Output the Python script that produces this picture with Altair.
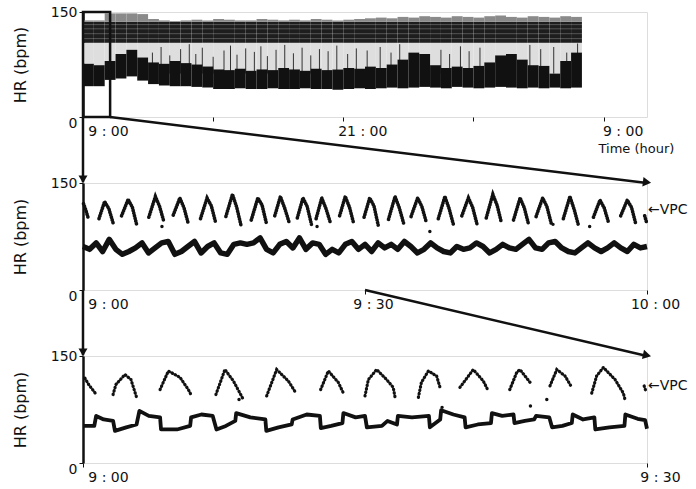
import altair as alt
import pandas as pd

FONT = "DejaVu Sans"
INK = "#111111"

# ---------------- Panel 1: whole-day HR (hours after 9:00) ----------------
p1_bin_t = [0.0, 0.5, 1.0, 1.5, 2.0, 2.5, 3.0, 3.5, 4.0, 4.5, 5.0, 5.5, 6.0, 6.5, 7.0, 7.5,
            8.0, 8.5, 9.0, 9.5, 10.0, 10.5, 11.0, 11.5, 12.0, 12.5, 13.0, 13.5, 14.0, 14.5,
            15.0, 15.5, 16.0, 16.5, 17.0, 17.5, 18.0, 18.5, 19.0, 19.5, 20.0, 20.5, 21.0,
            21.5, 22.0, 22.5]
p1_low = [44, 44, 53, 55, 58, 52, 47, 45, 44, 44, 43, 42, 40, 40, 41, 40, 40, 41, 40, 40,
          41, 40, 40, 39, 40, 41, 40, 41, 42, 41, 42, 43, 42, 41, 43, 42, 41, 42, 43, 42,
          41, 42, 41, 42, 41, 42]
p1_high = [76, 74, 80, 90, 96, 85, 78, 76, 80, 77, 75, 72, 68, 67, 69, 66, 68, 67, 70, 68,
           66, 69, 67, 68, 70, 69, 72, 70, 75, 82, 92, 90, 74, 70, 72, 70, 73, 78, 88, 90,
           82, 74, 73, 62, 80, 92]
p1_top = [138, 138, 148, 148, 148, 147, 140, 138, 137, 138, 139, 138, 140, 139, 138, 138,
          140, 139, 138, 139, 138, 140, 139, 138, 139, 140, 141, 142, 141, 143, 142, 144,
          143, 142, 144, 143, 142, 144, 145, 143, 142, 144, 143, 142, 144, 143]
p1_streak_t = [3.2, 3.6, 4.0, 4.5, 4.9, 5.2, 5.5, 6.0, 6.5, 6.8, 7.1, 7.5, 7.9, 8.2, 8.5,
               8.9, 9.3, 9.7, 10.1, 10.5, 10.9, 11.3, 11.7, 12.2, 12.6, 13.1, 13.7, 14.2,
               14.6, 16.5, 16.9, 17.4, 17.8, 18.3, 20.6, 21.1, 21.7, 22.3, 22.8]
p1_streak_top = [92, 100, 88, 97, 104, 90, 99, 86, 95, 102, 89, 98, 93, 101, 87, 96, 103,
                 91, 99, 88, 97, 94, 102, 90, 98, 95, 100, 92, 104, 96, 90, 101, 94, 99,
                 103, 97, 100, 92, 105]
p1_stripe_hr = [112, 119, 126, 132]
p1_ticks = [0, 6, 12, 18, 24]
p1_tick_labels = ["9 : 00", "", "21 : 00", "", "9 : 00"]
zoom_box_hours = [0.0, 1.25]

# ---------------- Panel 2: 9:00-10:00 (minutes) ----------------
p2_start_t = [1.7, 4.1, 7.0, 9.6, 12.5, 15.2, 17.9, 20.4, 22.8, 24.8, 27.3, 29.9, 32.5,
              34.9, 37.8, 40.3, 42.9, 45.8, 48.2, 51.1, 54.3, 57.2]
p2_peak_t = [2.3, 4.8, 7.7, 10.3, 13.2, 15.9, 18.6, 21.0, 23.4, 25.4, 27.9, 30.5, 33.2,
             35.6, 38.5, 41.0, 43.6, 46.5, 48.9, 51.8, 55.0, 57.9]
p2_mid_t = [2.75, 5.25, 8.15, 10.75, 13.65, 16.35, 19.05, 21.45, 23.85, 25.85, 28.35, 30.95,
            33.65, 36.05, 38.95, 41.45, 44.05, 46.95, 49.35, 52.25, 55.45, 58.35]
p2_end_t = [3.2, 5.7, 8.6, 11.2, 14.1, 16.8, 19.5, 21.9, 24.3, 26.3, 28.8, 31.4, 34.1,
            36.5, 39.4, 41.9, 44.5, 47.4, 49.8, 52.7, 55.9, 58.8]
p2_start_hr = [100, 104, 102, 105, 100, 103, 98, 104, 101, 100, 104, 102, 99, 103, 100,
               104, 101, 98, 103, 100, 102, 104]
p2_peak_hr = [124, 127, 131, 129, 129, 134, 129, 131, 129, 129, 131, 129, 131, 129, 131,
              129, 134, 129, 129, 131, 126, 126]
p2_mid_hr = [114, 116, 117, 115, 118, 116, 119, 115, 117, 114, 116, 118, 115, 117, 114,
             116, 119, 115, 117, 113, 115, 116]
p2_end_hr = [94, 92, 96, 93, 95, 91, 94, 96, 92, 95, 93, 91, 94, 96, 92, 93, 95, 92, 94,
             91, 95, 93]
p2_edge_id = [100, 100, 100, 101, 101]
p2_edge_t = [0.05, 0.3, 0.55, 59.75, 59.95]
p2_edge_hr = [121, 112, 101, 104, 95]
p2_base_hr = [61, 57, 66, 54, 71, 57, 50, 54, 59, 66, 52, 59, 66, 68, 50, 54, 61, 68, 52,
              61, 66, 52, 50, 64, 66, 64, 66, 73, 57, 52, 64, 68, 59, 73, 57, 66, 64, 50,
              57, 52, 64, 68, 57,
              64, 54, 66, 59, 64, 57, 68, 61, 52, 57, 66, 59, 54, 52, 61, 57, 59, 66, 61,
              52, 57, 64, 59, 57, 64, 71, 59, 57, 66, 68, 59, 54, 52, 59, 66, 59, 54, 59,
              66, 59, 54, 64, 59, 61]
p2_base_t = [round(i * 60 / (len(p2_base_hr) - 1), 2) for i in range(len(p2_base_hr))]
p2_dot_t = [8.4, 24.9, 36.9, 50.0, 53.9]
p2_dot_hr = [89, 89, 82, 92, 89]

# ---------------- Panel 3: 9:00-9:30 (minutes) ----------------
p3_hump_id = [0, 0, 0,
              1, 1, 1, 1, 1,
              2, 2, 2, 2, 2,
              3, 3, 3, 3,
              4, 4, 4, 4,
              5, 5, 5, 5,
              6, 6, 6, 6, 6, 6,
              7, 7, 7, 7, 7,
              8, 8, 8, 8,
              9, 9, 9, 9,
              10, 10, 10, 10,
              11, 11, 11, 11, 11, 11,
              12, 12]
p3_hump_t = [0.1, 0.3, 0.65,
             1.6, 1.75, 2.23, 2.55, 2.85,
             4.10, 4.54, 5.16, 5.6, 5.78,
             7.07, 7.55, 8.0, 8.53,
             9.77, 10.3, 10.92, 11.28,
             12.64, 13.05, 13.58, 13.85,
             15.0, 15.18, 15.62, 16.15, 16.5, 16.6,
             17.84, 18.0, 18.37, 18.81, 18.99,
             20.05, 20.76, 21.29, 21.56,
             22.7, 23.07, 23.24, 23.78,
             24.84, 25.2, 25.64, 26.0,
             27.06, 27.32, 27.68, 28.3, 28.74, 28.83,
             29.85, 29.95]
p3_hump_hr = [119, 110, 98,
              96, 110, 124, 117, 92,
              103, 129, 120, 103, 94,
              96, 131, 115, 89,
              94, 131, 115, 100,
              103, 129, 113, 98,
              94, 117, 131, 117, 106, 92,
              92, 113, 129, 122, 106,
              106, 131, 115, 101,
              103, 127, 131, 113,
              108, 131, 122, 106,
              98, 122, 134, 117, 98, 89,
              108, 100]
p3_base_t = [0, 0.6, 0.7, 1.1, 1.6, 1.7, 2.3, 2.85, 3.0, 3.5, 4.1, 4.15, 5.0, 5.7, 5.75,
             6.3, 6.9, 7.1, 7.6, 8.1, 8.15, 8.9, 9.7, 9.75, 10.4, 11.1, 11.15, 11.9, 12.6,
             12.65, 13.2, 13.8, 13.85, 14.5, 15.0, 15.1, 15.9, 16.2, 16.7, 16.75, 17.5,
             18.4, 18.45, 19.0, 19.05, 19.7, 20.3, 20.35, 21.0, 21.7, 21.75, 22.3, 22.9,
             22.95, 23.5, 24.0, 24.1, 24.8, 24.95, 25.5, 26.0, 26.05, 26.6, 27.2, 27.25,
             28.0, 28.8, 28.85, 29.5, 29.9, 30.0]
p3_base_hr = [52, 52, 66, 61, 59, 45, 50, 54, 73, 66, 64, 47, 47, 52, 64, 68, 66, 47, 52,
              59, 70, 64, 61, 45, 50, 54, 61, 68, 66, 49, 52, 56, 70, 64, 66, 50, 52, 59,
              54, 66, 64, 66, 50, 61, 74, 68, 64, 50, 54, 56, 70, 66, 68, 56, 59, 61, 66,
              64, 50, 52, 56, 68, 61, 64, 47, 50, 52, 68, 62, 60, 48]
p3_dot_t = [8.3, 19.1, 23.8, 24.67]
p3_dot_hr = [89, 78, 80, 89]

# ---------------- layout constants ----------------
W = 564
H1, H2, H3 = 105, 107, 107
GAP = 66
hr_above_2 = 150 + GAP * 150 / H2   # HR value at panel-1 bottom, in panel-2 scale
hr_above_3 = 150 + GAP * 150 / H3

ys = alt.Scale(domain=[0, 150], nice=False)


def y_axis():
    return alt.Axis(values=[0, 50, 100, 150], title="HR (bpm)", titleFont=FONT,
                    titleFontSize=16, titleFontWeight="normal", titleColor=INK,
                    titlePadding=22, labelFont=FONT, labelFontSize=14, labelColor=INK,
                    labelPadding=2, tickSize=4, tickColor=INK, domainColor=INK,
                    domainWidth=2.5, grid=False,
                    labelOffset={"condition": {"test": "datum.value == 0", "value": 6},
                                 "value": 0})


def label_expr(vals, labels):
    expr = "''"
    for v, lab in reversed(list(zip(vals, labels))):
        expr = f"datum.value == {v} ? '{lab}' : ({expr})"
    return expr


def x_axis(vals, labels, mid_offset=11, **kw):
    return alt.Axis(values=vals, labelExpr=label_expr(vals, labels), grid=False,
                    domain=False, tickSize=4, tickColor=INK, labelFont=FONT,
                    labelFontSize=14, labelColor=INK, labelPadding=3,
                    labelAlign="center",
                    labelOffset={"condition": {"test": "datum.value == 0", "value": 25},
                                 "value": mid_offset},
                    **kw)


# ---------------- Panel 1 ----------------
df1 = pd.DataFrame({"t": p1_bin_t, "low": p1_low, "high": p1_high, "top": p1_top})
xs1 = alt.Scale(domain=[0, 26], nice=False)
X1 = alt.X("t:Q", scale=xs1,
           axis=x_axis(p1_ticks, p1_tick_labels, mid_offset=19, title="Time (hour)",
                       titleFont=FONT, titleFontSize=13, titleFontWeight="normal",
                       titleColor=INK, titleAlign="left", titleAnchor="start",
                       titleX=515, titleY=31, titleBaseline="middle"))
base1 = alt.Chart(df1).transform_calculate(
    t2="datum.t + 0.5", band_lo="106", band_hi="136")
speck = base1.mark_rect(fill="#dedede").encode(
    x=X1, x2="t2:Q", y=alt.Y("high:Q", scale=ys, axis=y_axis()), y2="band_lo:Q")
upper = base1.mark_rect(fill="#1e1e1e").encode(
    x="t:Q", x2="t2:Q", y="band_lo:Q", y2="band_hi:Q")
upper_top = base1.mark_rect(fill="#8a8a8a").encode(
    x="t:Q", x2="t2:Q", y="band_hi:Q", y2="top:Q")
dense = base1.mark_rect(fill=INK).encode(x="t:Q", x2="t2:Q", y="low:Q", y2="high:Q")
streaks = alt.Chart(pd.DataFrame({"t": p1_streak_t, "top": p1_streak_top})).transform_calculate(
    foot="62").mark_rule(color="#333333", strokeWidth=1.0).encode(
    x="t:Q", y="foot:Q", y2="top:Q")
stripes = alt.Chart(pd.DataFrame({"hr": p1_stripe_hr})).transform_calculate(
    a="0", b="23").mark_rule(color="white", strokeWidth=0.7, opacity=0.35).encode(
    y="hr:Q", x="a:Q", x2="b:Q")
box = alt.Chart(pd.DataFrame({"a": [zoom_box_hours[0]], "b": [zoom_box_hours[1]]})).transform_calculate(
    lo="0", hi="150").mark_rect(fill="transparent", stroke=INK, strokeWidth=2.5).encode(
    x="a:Q", x2="b:Q", y="lo:Q", y2="hi:Q")
panel1 = alt.layer(speck, streaks, upper, stripes, upper_top, dense, box).properties(
    width=W, height=H1)


def arrows(hr_from, t_from, t_to, angle):
    segs = pd.DataFrame({"seg": ["L", "L", "D", "D"], "o": [0, 1, 0, 1],
                         "t": [0, 0, t_from, t_to],
                         "hr": [hr_from, 151, hr_from, 150]})
    lines = alt.Chart(segs).mark_line(color=INK, strokeWidth=2.5, clip=False).encode(
        x="t:Q", y="hr:Q", detail="seg:N", order="o:Q")
    head_l = alt.Chart(pd.DataFrame({"t": [0], "hr": [155]})).mark_point(
        shape="triangle-down", filled=True, color=INK, size=80, opacity=1, clip=False).encode(
        x="t:Q", y="hr:Q")
    head_d = alt.Chart(pd.DataFrame({"t": [t_to], "hr": [151]})).mark_point(
        shape="triangle-right", filled=True, color=INK, size=90, opacity=1, angle=angle,
        clip=False, dx=-5).encode(x="t:Q", y="hr:Q")
    return alt.layer(lines, head_l, head_d)


def vpc_label(t, hr):
    return alt.Chart(pd.DataFrame({"t": [t], "hr": [hr]})).mark_text(
        text="←VPC", align="left", baseline="middle", font=FONT, fontSize=14, color=INK,
        dx=1).encode(x="t:Q", y="hr:Q")


# ---------------- Panel 2 ----------------
rows = []
for i in range(len(p2_peak_t)):
    rows += [(i, p2_start_t[i], p2_start_hr[i]), (i, p2_peak_t[i], p2_peak_hr[i]),
             (i, p2_mid_t[i], p2_mid_hr[i]), (i, p2_end_t[i], p2_end_hr[i])]
rows += list(zip(p2_edge_id, p2_edge_t, p2_edge_hr))
hump2 = pd.DataFrame(rows, columns=["id", "t", "hr"])
xs2 = alt.Scale(domain=[0, 60], nice=False)
X2 = alt.X("t:Q", scale=xs2, axis=x_axis([0, 30, 60], ["9 : 00", "9 : 30", "10 : 00"],
                                        mid_offset=8, title=None))
base2 = alt.Chart(pd.DataFrame({"t": p2_base_t, "hr": p2_base_hr})).mark_line(
    color=INK, strokeWidth=5.5, strokeJoin="round").encode(
    x=X2, y=alt.Y("hr:Q", scale=ys, axis=y_axis()))
humps2 = alt.Chart(hump2).mark_line(
    color=INK, strokeWidth=3.6, strokeDash=[0.5, 2.2], strokeCap="round").encode(
    x="t:Q", y="hr:Q", detail="id:N")
dots2 = alt.Chart(pd.DataFrame({"t": p2_dot_t, "hr": p2_dot_hr})).mark_circle(
    color=INK, size=12, opacity=1).encode(x="t:Q", y="hr:Q")
panel2 = alt.layer(base2, humps2, dots2, arrows(hr_above_2, 2.87, 60, 7.2),
                   vpc_label(60, 112)).properties(width=W, height=H2)

# ---------------- Panel 3 ----------------
hump3 = pd.DataFrame({"id": p3_hump_id, "t": p3_hump_t, "hr": p3_hump_hr})
xs3 = alt.Scale(domain=[0, 30], nice=False)
X3 = alt.X("t:Q", scale=xs3, axis=x_axis([0, 30], ["9 : 00", "9 : 30"], mid_offset=13,
                                        title=None))
base3 = alt.Chart(pd.DataFrame({"t": p3_base_t, "hr": p3_base_hr})).mark_line(
    color=INK, strokeWidth=3.8, strokeJoin="round").encode(
    x=X3, y=alt.Y("hr:Q", scale=ys, axis=y_axis()))
humps3 = alt.Chart(hump3).mark_line(
    color=INK, strokeWidth=3.2, strokeDash=[0.5, 3.0], strokeCap="round").encode(
    x="t:Q", y="hr:Q", detail="id:N")
dots3 = alt.Chart(pd.DataFrame({"t": p3_dot_t, "hr": p3_dot_hr})).mark_circle(
    color=INK, size=12, opacity=1).encode(x="t:Q", y="hr:Q")
panel3 = alt.layer(base3, humps3, dots3, arrows(hr_above_3, 15, 30, 12.6),
                   vpc_label(30, 108)).properties(width=W, height=H3)

chart = alt.vconcat(panel1, panel2, panel3, spacing=GAP, bounds="flush").properties(
    padding={"left": 11, "top": 4, "right": 0, "bottom": 0}
).configure_view(stroke=INK, strokeWidth=1.5).configure(background="white")

chart.save("out.html", embed_options={"renderer": "svg", "actions": False})
